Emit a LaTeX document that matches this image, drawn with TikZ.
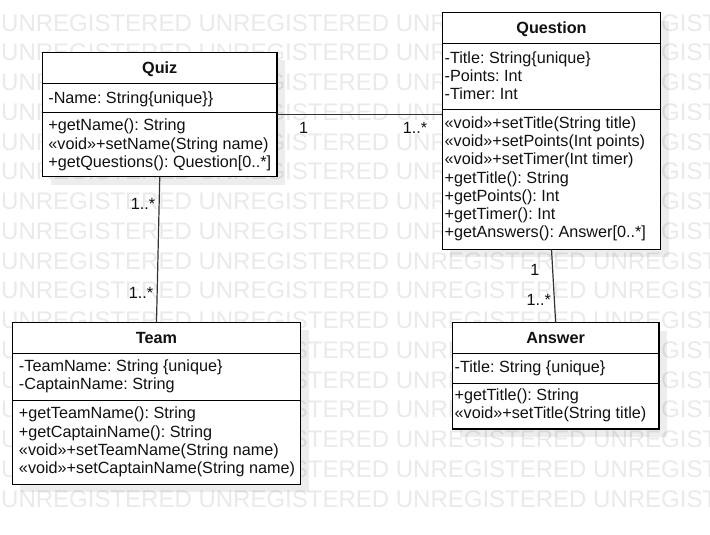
\documentclass[tikz,border=0pt]{standalone}
\usepackage{fontspec}
\setmainfont{Liberation Sans}
\usepackage{xcolor}
\usepackage{tikz}
\usetikzlibrary{calc,shadows}
\frenchspacing
\definecolor{ink}{HTML}{111111}
\definecolor{edge}{HTML}{000000}
\definecolor{wire}{HTML}{333333}
\definecolor{wm}{HTML}{EAEAEA}
\tikzset{
  cls/.style={draw=edge, fill=white, line width=1.2pt, outer sep=0pt,
    drop shadow={shadow xshift=8pt, shadow yshift=-8pt, fill=black, opacity=0.07}},
  sep/.style={draw=edge, line width=1.2pt},
  ttl/.style={text=ink, font=\bfseries\fontsize{16.2}{18.3}\selectfont, inner sep=0pt,
    text height=11.6pt, text depth=0pt},
  mem/.style={text=ink, font=\fontsize{16.2}{18.3}\selectfont, inner sep=0pt,
    align=left, anchor=north west, execute at begin node=\strut},
  assoc/.style={draw=wire, line width=1.2pt},
  mult/.style={text=ink, font=\fontsize{16.2}{18.3}\selectfont, inner sep=0pt,
    text height=11.6pt, text depth=0pt},
  wmk/.style={text=wm, font=\fontsize{24}{24}\selectfont, inner sep=0pt, anchor=base west},
}
\begin{document}
\begin{tikzpicture}[x=1pt, y=-1pt]
  \path[fill=white, use as bounding box] (0,0) rectangle (710,535);
  % watermark
  \foreach \k in {0,...,16}
    \node[wmk] (wm\k) at (1,{31.1+29.75*\k}) {UNREGISTERED UNREGISTERED UNREGISTERED UNREGISTERED};

  % classes
  \node[cls, minimum width=234.5pt, minimum height=124.2pt] (quiz) at (159.75,114.6) {};
  \node[cls, minimum width=218.4pt, minimum height=236.6pt] (question) at (551.5,131) {};
  \node[cls, minimum width=288.4pt, minimum height=162pt] (team) at (156.5,403.3) {};
  \node[cls, minimum width=206.7pt, minimum height=106.3pt] (answer) at (555.65,375.85) {};

  \draw[sep] ($(quiz.north west)+(0,31)$) -- ($(quiz.north east)+(0,31)$);
  \draw[sep] ($(quiz.north west)+(0,60.2)$) -- ($(quiz.north east)+(0,60.2)$);
  \draw[sep] ($(question.north west)+(0,30.6)$) -- ($(question.north east)+(0,30.6)$);
  \draw[sep] ($(question.north west)+(0,96.6)$) -- ($(question.north east)+(0,96.6)$);
  \draw[sep] ($(team.north west)+(0,31)$) -- ($(team.north east)+(0,31)$);
  \draw[sep] ($(team.north west)+(0,78.4)$) -- ($(team.north east)+(0,78.4)$);
  \draw[sep] ($(answer.north west)+(0,30.6)$) -- ($(answer.north east)+(0,30.6)$);
  \draw[sep] ($(answer.north west)+(0,60.6)$) -- ($(answer.north east)+(0,60.6)$);

  \node[ttl] (quizT) at ($(quiz.north)+(0,15.5)$) {Quiz};
  \node[mem] (quizA) at ($(quiz.north west)+(5.7,37.5)$) {-Name: String\{unique\}\}};
  \node[mem] (quizO) at ($(quiz.north west)+(5.7,66.4)$) {+getName(): String\\
    «void»+setName(String name)\\
    +getQuestions(): Question[0..*]};

  \node[ttl] (questionT) at ($(question.north)+(0,15.3)$) {Question};
  \node[mem] (questionA) at ($(question.north west)+(2.2,38.5)$) {-Title: String\{unique\}\\
    -Points: Int\\
    -Timer: Int};
  \node[mem] (questionO) at ($(question.north west)+(2.2,103.5)$) {«void»+setTitle(String title)\\
    «void»+setPoints(Int points)\\
    «void»+setTimer(Int timer)\\
    +getTitle(): String\\
    +getPoints(): Int\\
    +getTimer(): Int\\
    +getAnswers(): Answer[0..*]};

  \node[ttl] (teamT) at ($(team.north)+(0,15)$) {Team};
  \node[mem] (teamA) at ($(team.north west)+(6.5,37.3)$) {-TeamName: String \{unique\}\\
    -CaptainName: String};
  \node[mem] (teamO) at ($(team.north west)+(6.5,84.6)$) {+getTeamName(): String\\
    +getCaptainName(): String\\
    «void»+setTeamName(String name)\\
    «void»+setCaptainName(String name)};

  \node[ttl] (answerT) at ($(answer.north)+(0,15.3)$) {Answer};
  \node[mem] (answerA) at ($(answer.north west)+(2.2,36.9)$) {-Title: String \{unique\}};
  \node[mem] (answerO) at ($(answer.north west)+(2.2,65.9)$) {+getTitle(): String\\
    «void»+setTitle(String title)};

  % associations
  \coordinate (qq) at (quiz.east -| question.west);
  \draw[assoc] (quiz.east) -- (qq);
  \draw[assoc] (quiz.south) -- (team.north);
  \draw[assoc] (question.south) -- (answer.north);

  \node[mult] (m1) at ($(quiz.east)+(26.7,13.1)$) {1};
  \node[mult] (m2) at ($(qq)+(-27.3,13.1)$) {1..*};
  \node[mult, anchor=east] (m3) at ($(quiz.south)+(-4.3,27.1)$) {1..*};
  \node[mult, anchor=east] (m4) at ($(team.north)+(-3,-29.8)$) {1..*};
  \node[mult, anchor=east] (m5) at ($(question.south)+(-12,20)$) {1};
  \node[mult, anchor=east] (m6) at ($(answer.north)+(-4.5,-23.2)$) {1..*};
\end{tikzpicture}
\end{document}
